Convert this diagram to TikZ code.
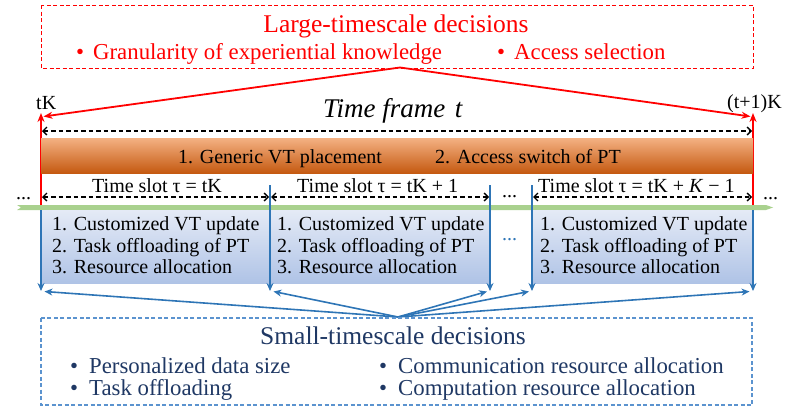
\documentclass[tikz,border=0pt]{standalone}
\usepackage{fontspec}
\setmainfont{Liberation Serif}
\usetikzlibrary{arrows.meta}
\definecolor{myred}{HTML}{FF0000}
\definecolor{navy}{HTML}{1F3864}
\definecolor{lineblue}{HTML}{2E75B6}
\definecolor{boxblue}{HTML}{5B93CF}
\definecolor{barGreen}{HTML}{A9D18E}
\definecolor{orTop}{HTML}{F4B183}
\definecolor{orMid}{HTML}{ED7D31}
\definecolor{orBot}{HTML}{C55A11}
\definecolor{blTop}{HTML}{E4EAF6}
\definecolor{blBot}{HTML}{AFC3E6}
\begin{document}
\begin{tikzpicture}[x=1pt,y=-1pt,
  txt/.style={inner sep=0pt, anchor=base west},
  ctxt/.style={inner sep=0pt, anchor=base},
  fbig/.style={font=\fontsize{25.5}{30}\selectfont},
  fmid/.style={font=\fontsize{22.8}{26}\selectfont},
  fsmall/.style={font=\fontsize{20}{24}\selectfont},
  redarrow/.style={draw=myred, line width=1.8pt, -{Stealth[length=9pt,width=7pt]}},
  bluearrow/.style={draw=lineblue, line width=1.6pt, -{Stealth[length=8pt,width=7pt]}},
  dasharrow/.style={draw=black, line width=1.3pt, dash pattern=on 4.5pt off 3pt, {Straight Barb[length=4pt,width=8pt]}-{Straight Barb[length=4pt,width=8pt]}},
]
\useasboundingbox (0,0) rectangle (787,415);

% ---------- top box ----------
\draw[myred, line width=1pt, dash pattern=on 4pt off 2.5pt] (41,5) rectangle (753,68);
\node[ctxt, fbig, text=myred] (ltitle) at (396,32) {Large-timescale decisions};
\node[txt, fmid, text=myred] (lb1) at (93,59) {\llap{\textbullet\hspace{9pt}}Granularity of experiential knowledge};
\node[txt, fmid, text=myred] (lb2) at (514,59) {\llap{\textbullet\hspace{9pt}}Access selection};
\coordinate (apexT) at (400,67.5);

% ---------- time frame ----------
\coordinate (rL) at (41,116);
\coordinate (rR) at (753,116);
\coordinate (rLb) at (41,208);
\coordinate (rRb) at (753,208);
\draw[redarrow] (rLb) -- (41,113);
\draw[redarrow] (rRb) -- (753,113);
\draw[redarrow] (apexT) -- (43.5,116.5);
\draw[redarrow] (apexT) -- (750.5,116.5);
\node[txt, fsmall] (tk) at (36,109) {tK};
\node[txt, fsmall] (t1k) at (727,108) {(t+1)K};
\node[txt, font=\fontsize{27}{30}\selectfont\itshape] (tframe) at (323,117) {Time frame\hspace{0.35em}t};
\coordinate (fA) at (42,131);
\coordinate (fB) at (752,131);
\draw[dasharrow] (fA) -- (fB);

% ---------- orange bar ----------
\shade[top color=orTop, middle color=orMid, bottom color=orBot] (41,138) rectangle (753,173);
\node[txt, fsmall] (o1) at (178,163) {1. Generic VT placement};
\node[txt, fsmall] (o2) at (435,163) {2. Access switch of PT};

% ---------- slots ----------
\node[txt, fsmall] (s1) at (92,192.5) {Time slot τ = tK};
\node[txt, fsmall] (s2) at (297,192.5) {Time slot τ = tK + 1};
\node[txt, fsmall] (s3) at (538,192.5) {Time slot τ = tK + \textit{K} − 1};
\draw[dasharrow] (42,197) -- (269,197);
\draw[dasharrow] (271,197) -- (489,197);
\draw[dasharrow] (533,197) -- (752,197);
\node[txt, fsmall] (dl) at (16,199) {...};
\node[txt, fsmall] (dr) at (763,199) {...};
\node[txt, fsmall] (dm) at (502,197) {...};

% ---------- green bar ----------
\fill[barGreen] (17,205) -- (766,205) -- (773,207.5) -- (766,210) -- (17,210) -- (21,207.5) -- cycle;

% ---------- blue boxes ----------
\shade[top color=blTop, bottom color=blBot] (41,210.5) rectangle (490,283);
\shade[top color=blTop, bottom color=blBot] (532,210.5) rectangle (753,283);
\foreach \x/\n in {52/a, 277/b, 540/c}{
  \node[txt, fsmall] (c1\n) at (\x,230) {1. Customized VT update};
  \node[txt, fsmall] (c2\n) at (\x,252) {2. Task offloading of PT};
  \node[txt, fsmall] (c3\n) at (\x,273) {3. Resource allocation};
}
\node[txt, fsmall, text=lineblue] (bdots) at (502,240) {...};

% ---------- blue vertical arrows ----------
\coordinate (j1) at (41,291);
\coordinate (j2) at (270,291);
\coordinate (j3) at (490,291);
\coordinate (j4) at (532,291);
\coordinate (j5) at (753,291);
\draw[bluearrow] (41,210) -- (j1);
\draw[bluearrow] (270,185) -- (j2);
\draw[bluearrow] (490,185) -- (j3);
\draw[bluearrow] (532,185) -- (j4);
\draw[bluearrow] (753,210) -- (j5);

% ---------- bottom box ----------
\coordinate (apexB) at (398,317);
\draw[bluearrow] (apexB) -- (44.5,291.5);
\draw[bluearrow] (apexB) -- (273.5,291.5);
\draw[bluearrow] (apexB) -- (487,291.5);
\draw[bluearrow] (apexB) -- (529,291.5);
\draw[bluearrow] (apexB) -- (749.5,291.5);
\draw[boxblue, line width=1.2pt, dash pattern=on 4pt off 2.5pt] (41,318) rectangle (752,405);
\node[ctxt, fbig, text=navy] (stitle) at (393,344) {Small-timescale decisions};
\node[txt, fmid, text=navy] (sb1) at (89,373) {\llap{\textbullet\hspace{11pt}}Personalized data size};
\node[txt, fmid, text=navy] (sb2) at (89,395) {\llap{\textbullet\hspace{11pt}}Task offloading};
\node[txt, fmid, text=navy] (sb3) at (398,373) {\llap{\textbullet\hspace{11pt}}Communication resource allocation};
\node[txt, fmid, text=navy] (sb4) at (398,395) {\llap{\textbullet\hspace{11pt}}Computation resource allocation};
\end{tikzpicture}
\end{document}
